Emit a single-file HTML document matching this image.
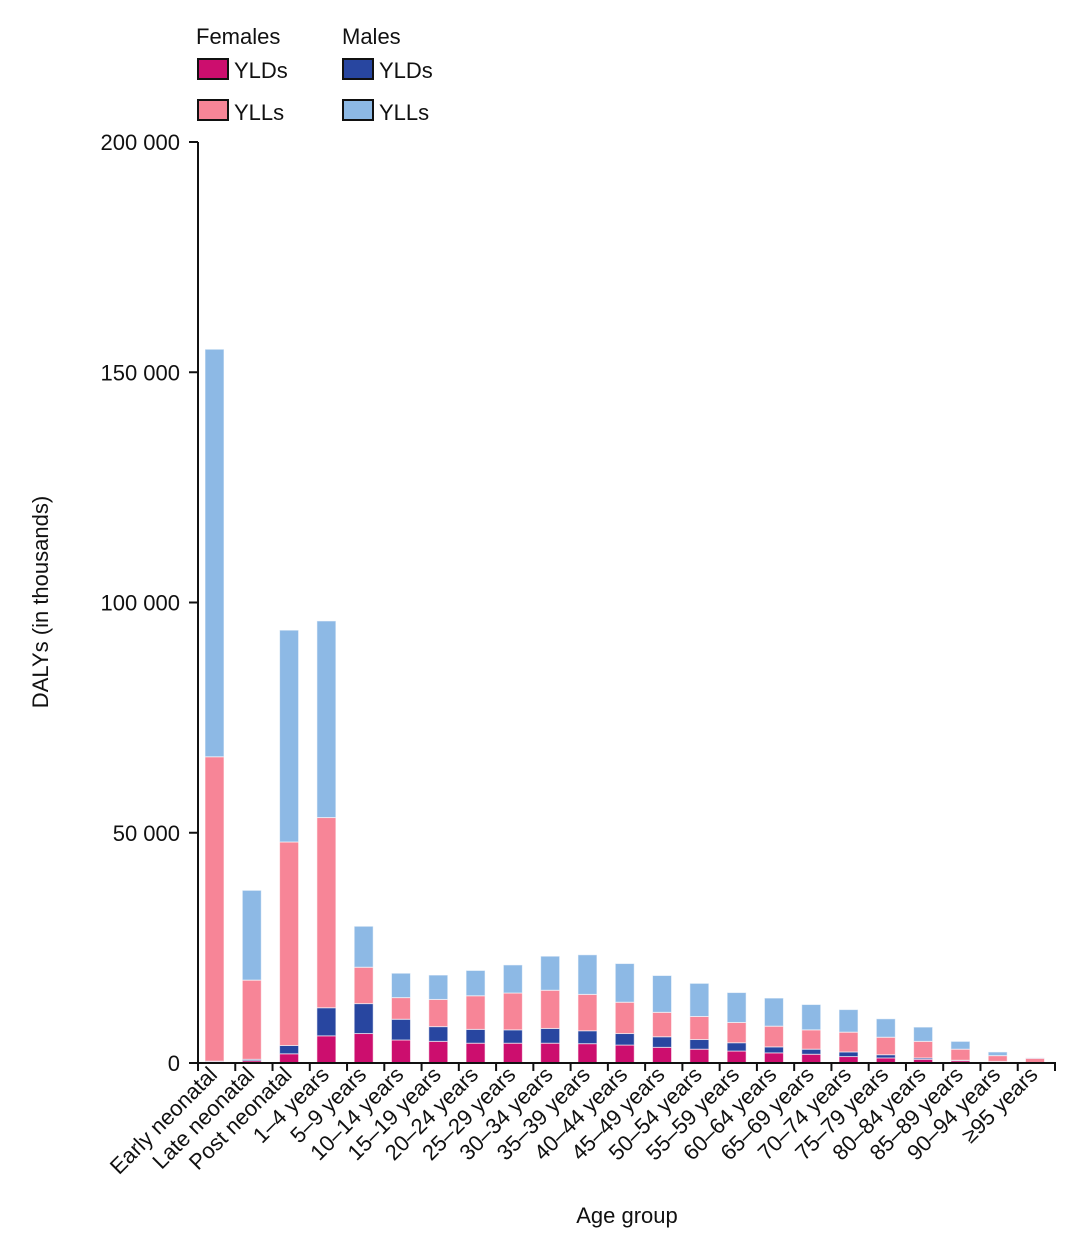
<!DOCTYPE html>
<html><head><meta charset="utf-8"><style>
body{margin:0;background:#fff;}
svg{display:block;font-family:"Liberation Sans",sans-serif;}
</style></head><body>
<svg id="chart" width="1080" height="1246" viewBox="0 0 1080 1246">
<g id="legend" font-size="22" fill="#111">
<text x="196" y="44">Females</text>
<rect x="198" y="59" width="30" height="20" fill="#cc0e6e" stroke="#111" stroke-width="2"/>
<text x="234" y="78">YLDs</text>
<rect x="198" y="100" width="30" height="20" fill="#f78597" stroke="#111" stroke-width="2"/>
<text x="234" y="120">YLLs</text>
<text x="342" y="44">Males</text>
<rect x="343" y="59" width="30" height="20" fill="#2846a0" stroke="#111" stroke-width="2"/>
<text x="379" y="78">YLDs</text>
<rect x="343" y="100" width="30" height="20" fill="#8db9e5" stroke="#111" stroke-width="2"/>
<text x="379" y="120">YLLs</text>
</g>
<g id="bars"></g>
<g id="axes"></g>
<text x="48" y="602" transform="rotate(-90 48 602)" text-anchor="middle" font-size="22" fill="#111">DALYs (in thousands)</text>
<text x="627" y="1223" text-anchor="middle" font-size="22" fill="#111">Age group</text>
</svg>
<script>
const categories=["Early neonatal","Late neonatal","Post neonatal","1–4 years","5–9 years","10–14 years","15–19 years","20–24 years","25–29 years","30–34 years","35–39 years","40–44 years","45–49 years","50–54 years","55–59 years","60–64 years","65–69 years","70–74 years","75–79 years","80–84 years","85–89 years","90–94 years","≥95 years"];
categories.splice(22);
categories[21]="90–94 years";
const cats=["Early neonatal","Late neonatal","Post neonatal","1–4 years","5–9 years","10–14 years","15–19 years","20–24 years","25–29 years","30–34 years","35–39 years","40–44 years","45–49 years","50–54 years","55–59 years","60–64 years","65–69 years","70–74 years","75–79 years","80–84 years","85–89 years","90–94 years","≥95 years"];
const femaleYLDs=[0.3,0.5,2.0,5.9,6.4,5.0,4.7,4.3,4.3,4.3,4.2,3.9,3.4,3.0,2.6,2.2,1.9,1.4,1.1,0.8,0.5,0.3,0.1];
const maleYLDs=[0.1,0.3,1.8,6.1,6.5,4.5,3.2,3.0,2.9,3.2,2.8,2.5,2.3,2.1,1.8,1.3,1.1,1.0,0.7,0.3,0.1,0.05,0.02];
const femaleYLLs=[66.1,17.2,44.2,41.3,7.9,4.7,5.9,7.3,8.0,8.3,7.9,6.8,5.3,5.0,4.4,4.5,4.2,4.3,3.8,3.6,2.4,1.25,0.9];
const maleYLLs=[88.5,19.5,46.0,42.7,8.9,5.3,5.3,5.5,6.1,7.4,8.6,8.4,8.0,7.2,6.5,6.1,5.5,4.9,4.0,3.1,1.7,0.8,0.1];
const yTicks=[0,50,100,150,200];
const yTickLabels=["0","50 000","100 000","150 000","200 000"];
</script>
<script>
const NS="http://www.w3.org/2000/svg";
const y0=1063,yTop=142,yMax=200;
function yScale(v){return y0-(v/yMax)*(y0-yTop);}
const firstC=214.5,lastC=1035;
const n=femaleYLDs.length;
function xScale(i){return firstC+i*(lastC-firstC)/(n-1);}
const bw=19;
const bars=document.getElementById('bars');
const series=[["female-ylds",femaleYLDs,"#cc0e6e"],["male-ylds",maleYLDs,"#2846a0"],["female-ylls",femaleYLLs,"#f78597"],["male-ylls",maleYLLs,"#8db9e5"]];
for(let i=0;i<n;i++){
  let cum=0;
  series.forEach(s=>{
    const v=s[1][i];
    const r=document.createElementNS(NS,'rect');
    
    
    const yt=yScale(cum+v),yb=yScale(cum);
    r.setAttribute('x',xScale(i)-bw/2);
    r.setAttribute('y',yt);
    r.setAttribute('width',bw);
    r.setAttribute('height',Math.max(0,yb-yt));
    r.setAttribute('fill',s[2]);
    r.setAttribute('stroke','rgba(255,255,255,0.6)');
    r.setAttribute('stroke-width','1');
    bars.appendChild(r);
    cum+=v;
  });
}
const axes=document.getElementById('axes');
function line(x1,y1,x2,y2,name){
  const l=document.createElementNS(NS,'line');
  
  
  l.setAttribute('x1',x1);l.setAttribute('y1',y1);l.setAttribute('x2',x2);l.setAttribute('y2',y2);
  l.setAttribute('stroke','#111');l.setAttribute('stroke-width','2');
  axes.appendChild(l);
}
line(198,yTop,198,y0+1,'y-axis-line');
line(197,y0,1056,y0,'x-axis-line');
yTicks.forEach((t,k)=>{
  const y=yScale(t);
  line(189,y,198,y,'y-tick');
  const tx=document.createElementNS(NS,'text');
  
  
  tx.setAttribute('x',180);tx.setAttribute('y',y+8);
  tx.setAttribute('text-anchor','end');tx.setAttribute('font-size','22');
  tx.setAttribute('fill','#111');tx.setAttribute('xml:space','preserve');
  tx.textContent=yTickLabels[k].replace(' ','  ');
  axes.appendChild(tx);
});
for(let k=0;k<=23;k++){
  const x=198+k*(1055-198)/23;
  line(x,y0,x,y0+8,'x-tick');
}
for(let i=0;i<n;i++){
  const x=xScale(i)+4,y=1076;
  const tx=document.createElementNS(NS,'text');
  
  
  tx.setAttribute('x',x);tx.setAttribute('y',y);
  tx.setAttribute('text-anchor','end');tx.setAttribute('font-size','22');
  tx.setAttribute('fill','#111');
  tx.setAttribute('transform','rotate(-45 '+x+' '+y+')');
  tx.textContent=cats[i];
  axes.appendChild(tx);
}
</script>
</body></html>
